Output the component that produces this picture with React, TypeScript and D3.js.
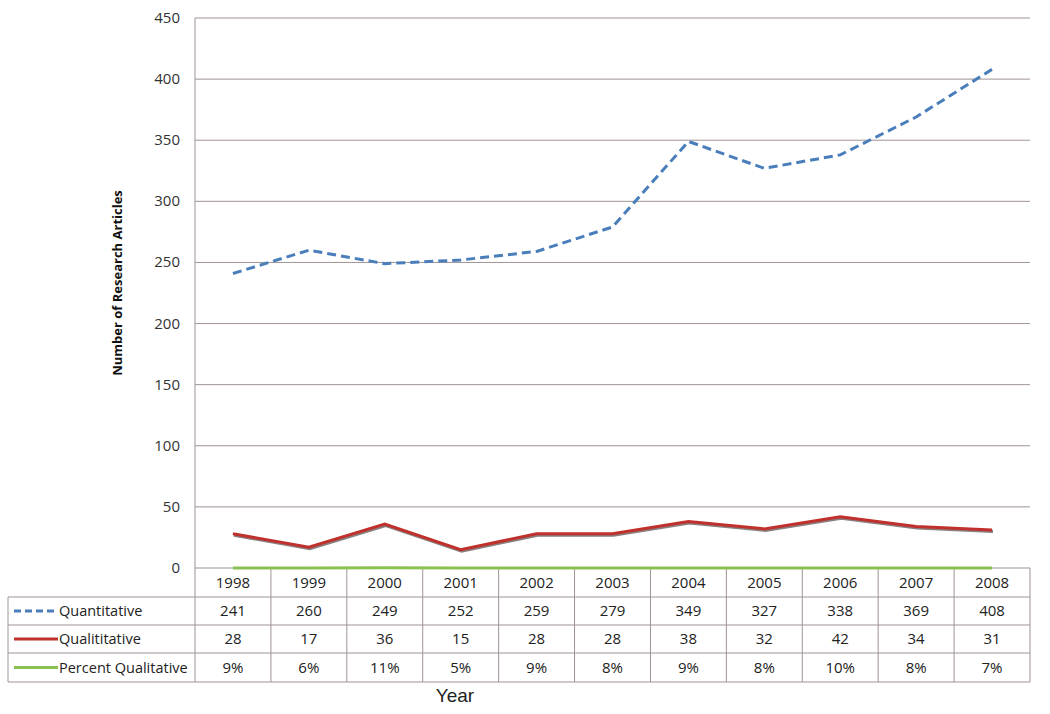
import React, { useEffect, useRef } from 'react';
import * as d3 from 'd3';

const years = ['1998', '1999', '2000', '2001', '2002', '2003', '2004', '2005', '2006', '2007', '2008'];
const quantitative = [241, 260, 249, 252, 259, 279, 349, 327, 338, 369, 408];
const qualitative = [28, 17, 36, 15, 28, 28, 38, 32, 42, 34, 31];
const percentQualitative = [0.09, 0.06, 0.11, 0.05, 0.09, 0.08, 0.09, 0.08, 0.1, 0.08, 0.07];
const yTicks = [0, 50, 100, 150, 200, 250, 300, 350, 400, 450];

const seriesNames = ['Quantitative', 'Qualititative', 'Percent Qualitative'];
const seriesColors = ['#4a7ebb', '#c0302c', '#8cc152'];

const App = () => {
  const ref = useRef<SVGSVGElement>(null);

  useEffect(() => {
    const width = 1050;
    const height = 714;
    const svg = d3.select(ref.current);
    svg.selectAll('*').remove();
    svg.attr('width', width).attr('height', height).style('background', '#fff');

    const left = 195, right = 1030, top = 18, bottom = 568;
    const tableLeft = 8;
    const rowH = [29, 28, 28, 29];
    const font = "'Open Sans', 'Noto Sans', sans-serif";

    const x = d3.scaleBand().domain(years).range([left, right]);
    const y = d3.scaleLinear().domain([0, 450]).range([bottom, top]);

    // grid lines
    svg.append('g')
      .selectAll('line')
      .data(yTicks.filter(d => d > 0))
      .enter()
      .append('line')
      .attr('x1', left)
      .attr('x2', right)
      .attr('y1', d => y(d))
      .attr('y2', d => y(d))
      .attr('stroke', '#a09393')
      .attr('stroke-width', 1);

    // y axis line
    svg.append('line')
      .attr('x1', left).attr('x2', left)
      .attr('y1', top).attr('y2', bottom)
      .attr('stroke', '#a09393');

    // y tick labels
    svg.append('g')
      .selectAll('text')
      .data(yTicks)
      .enter()
      .append('text')
      .attr('x', left - 15)
      .attr('y', d => y(d) + 5)
      .attr('text-anchor', 'end')
      .style('font-family', font)
      .style('font-size', '15px')
      .style('fill', '#333')
      .text(d => d);

    // y axis title
    svg.append('text')
      .attr('transform', `translate(122,283) rotate(-90)`)
      .attr('text-anchor', 'middle')
      .style('font-family', font)
      .style('font-size', '13px')
      .style('font-weight', 'bold')
      .style('fill', '#111')
      .text('Number of Research Articles');

    // data table
    const rowY = [bottom];
    rowH.forEach((h, i) => rowY.push(rowY[i] + h));
    const tableBottom = rowY[rowY.length - 1];
    const tg = svg.append('g');
    const gridColor = '#a09393';

    // horizontal lines
    rowY.forEach((yy, i) => {
      tg.append('line')
        .attr('x1', i === 0 ? left : tableLeft)
        .attr('x2', right)
        .attr('y1', yy).attr('y2', yy)
        .attr('stroke', gridColor);
    });
    // vertical lines
    const vx = years.map(yr => x(yr) as number).concat([right]);
    vx.forEach(xx => {
      tg.append('line')
        .attr('x1', xx).attr('x2', xx)
        .attr('y1', bottom).attr('y2', tableBottom)
        .attr('stroke', gridColor);
    });
    tg.append('line')
      .attr('x1', tableLeft).attr('x2', tableLeft)
      .attr('y1', rowY[1]).attr('y2', tableBottom)
      .attr('stroke', gridColor);

    // header years
    tg.selectAll('.yr')
      .data(years)
      .enter()
      .append('text')
      .attr('x', d => (x(d) as number) + x.bandwidth() / 2)
      .attr('y', rowY[0] + rowH[0] / 2 + 5)
      .attr('text-anchor', 'middle')
      .style('font-family', font)
      .style('font-size', '15px')
      .style('fill', '#222')
      .text(d => d);

    const rows = [
      quantitative.map(String),
      qualitative.map(String),
      percentQualitative.map(v => `${Math.round(v * 100)}%`),
    ];
    rows.forEach((vals, r) => {
      const cy = rowY[r + 1] + rowH[r + 1] / 2 + 5;
      tg.selectAll(`.row${r}`)
        .data(vals)
        .enter()
        .append('text')
        .attr('x', (d, i) => (x(years[i]) as number) + x.bandwidth() / 2)
        .attr('y', cy)
        .attr('text-anchor', 'middle')
        .style('font-family', font)
        .style('font-size', '15px')
        .style('fill', '#222')
        .text(d => d);

      // legend key
      const ly = rowY[r + 1] + rowH[r + 1] / 2;
      tg.append('line')
        .attr('x1', 14).attr('x2', 58)
        .attr('y1', ly).attr('y2', ly)
        .attr('stroke', seriesColors[r])
        .attr('stroke-width', 3)
        .attr('stroke-dasharray', r === 0 ? '7,4' : null);
      tg.append('text')
        .attr('x', 59)
        .attr('y', cy)
        .style('font-family', font)
        .style('font-size', '14.5px')
        .style('fill', '#222')
        .text(seriesNames[r]);
    });

    // lines
    const line = d3.line<number>()
      .x((d, i) => (x(years[i]) as number) + x.bandwidth() / 2)
      .y(d => y(d));

    svg.append('path')
      .datum(percentQualitative)
      .attr('d', line)
      .attr('fill', 'none')
      .attr('stroke', seriesColors[2])
      .attr('stroke-width', 3);

    // shadow under red line
    svg.append('path')
      .datum(qualitative)
      .attr('d', line)
      .attr('transform', 'translate(1,1.5)')
      .attr('fill', 'none')
      .attr('stroke', '#3a2a2a')
      .attr('stroke-opacity', 0.6)
      .attr('stroke-width', 3);

    svg.append('path')
      .datum(qualitative)
      .attr('d', line)
      .attr('fill', 'none')
      .attr('stroke', seriesColors[1])
      .attr('stroke-width', 3);

    svg.append('path')
      .datum(quantitative)
      .attr('d', line)
      .attr('fill', 'none')
      .attr('stroke', seriesColors[0])
      .attr('stroke-width', 3)
      .attr('stroke-dasharray', '9,5');

    // x title
    svg.append('text')
      .attr('x', 455)
      .attr('y', 702)
      .attr('text-anchor', 'middle')
      .style('font-family', "'Liberation Sans', Arial, sans-serif")
      .style('font-size', '19px')
      .style('fill', '#222')
      .text('Year');
  }, []);

  return <svg ref={ref} style={{ position: 'absolute', left: 0, top: 0 }}></svg>;
};

export default App;
